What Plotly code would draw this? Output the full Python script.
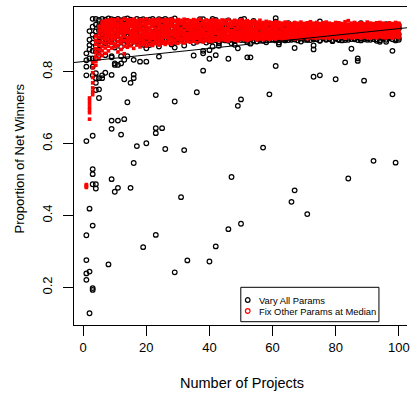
import plotly.graph_objects as go

# ---------------- data ----------------
projects = list(range(1, 101))

# "Vary All Params": main band values per number of projects (1..100)
vary_band = [
    [.832, .851],
    [.862, .889, .913],
    [.947, .925, .903, .881, .858],
    [.947, .931, .912, .896, .872, .856],
    [.944, .927, .915, .899, .884, .861],
    [.947, .936, .921, .904, .889, .884],
    [.945, .930, .917, .899, .883, .880],
    [.948, .938, .913, .902, .886, .893],
    [.946, .933, .920, .907, .890, .882],
    [.944, .929, .915, .897, .884, .867],
    [.947, .937, .922, .906, .888, .891],
    [.943, .931, .918, .900, .885, .869],
    [.946, .934, .911, .903, .887, .894],
    [.948, .928, .916, .898, .881, .886],
    [.945, .936, .921, .905, .891, .877],
    [.942, .930, .914, .899, .884, .893],
    [.947, .935, .919, .908, .889, .885],
    [.944, .927, .912, .896, .882, .890],
    [.946, .933, .920, .902, .886, .875],
    [.943, .938, .917, .904, .890, .894],
    [.945, .929, .913, .897, .883, .889],
    [.947, .934, .922, .906, .888, .893],
    [.942, .931, .915, .900, .885, .887],
    [.946, .936, .918, .903, .891, .870],
    [.944, .928, .911, .898, .884, .892],
    [.947, .933, .920, .907, .889, .886],
    [.943, .930, .916, .901, .886, .894],
    [.945, .937, .919, .904, .892, .876],
    [.948, .932, .914, .899, .883, .890],
    [.941, .929, .921, .906, .890, .887],
    [.928, .922, .917, .902, .887, .893],
    [.924, .919, .913, .897, .885, .873],
    [.941, .926, .920, .905, .891, .888],
    [.927, .921, .915, .900, .886, .894],
    [.925, .918, .912, .903, .889, .880],
    [.929, .923, .912, .898, .884, .892],
    [.946, .926, .921, .906, .892, .887],
    [.946, .924, .916, .901, .887, .894],
    [.927, .920, .913, .904, .890, .881],
    [.925, .918, .914, .899, .885, .891],
    [.947, .927, .920, .907, .893, .886],
    [.944, .923, .917, .902, .888, .895],
    [.928, .921, .913, .897, .884, .879],
    [.926, .919, .912, .905, .891, .889],
    [.940, .924, .915, .900, .887, .893],
    [.943, .927, .921, .906, .892, .886],
    [.925, .920, .916, .903, .889, .895],
    [.929, .922, .918, .899, .885, .875],
    [.927, .919, .914, .904, .890, .893],
    [.945, .926, .920, .907, .893, .888],
    [.947, .924, .917, .902, .888, .894],
    [.926, .921, .913, .898, .886, .882],
    [.928, .919, .912, .905, .891, .890],
    [.941, .925, .915, .900, .887, .895],
    [.924, .920, .913, .906, .893, .884],
    [.927, .922, .916, .903, .889, .892],
    [.925, .919, .918, .901, .886, .896],
    [.929, .923, .914, .904, .892, .887],
    [.926, .920, .911, .907, .888, .894],
    [.928, .921, .917, .902, .890, .889],
    [.949, .939, .915, .899, .887, .895],
    [.926, .920, .919, .905, .893, .876],
    [.924, .918, .913, .900, .889, .892],
    [.928, .922, .918, .906, .891, .887],
    [.935, .919, .916, .903, .888, .895],
    [.925, .921, .914, .901, .892, .889],
    [.927, .917, .912, .904, .890, .893],
    [.924, .920, .917, .899, .887, .896],
    [.928, .922, .919, .905, .893, .884],
    [.931, .918, .915, .902, .889, .894],
    [.925, .921, .913, .906, .891, .888],
    [.927, .919, .916, .900, .888, .896],
    [.924, .920, .918, .903, .892, .890],
    [.929, .922, .913, .907, .890, .895],
    [.940, .925, .919, .901, .887, .886],
    [.926, .918, .915, .904, .893, .897],
    [.928, .921, .917, .899, .889, .891],
    [.924, .919, .912, .905, .891, .895],
    [.927, .920, .914, .902, .888, .885],
    [.925, .922, .918, .906, .892, .894],
    [.928, .918, .916, .900, .890, .888],
    [.926, .921, .919, .903, .887, .896],
    [.924, .919, .915, .907, .893, .888],
    [.927, .922, .917, .901, .889, .894],
    [.925, .918, .913, .904, .891, .897],
    [.928, .920, .914, .902, .890, .892],
    [.926, .921, .916, .905, .888, .896],
    [.935, .923, .918, .900, .892, .887],
    [.924, .919, .914, .903, .890, .895],
    [.927, .917, .919, .906, .893, .889],
    [.931, .920, .915, .901, .889, .894],
    [.925, .922, .917, .904, .891, .897],
    [.928, .918, .912, .907, .890, .886],
    [.932, .921, .913, .902, .887, .883],
    [.926, .919, .918, .905, .892, .895],
    [.932, .920, .916, .900, .889, .883],
    [.924, .918, .919, .903, .893, .896],
    [.927, .921, .914, .906, .890, .897],
    [.925, .919, .917, .901, .891, .887],
    [.930, .922, .920, .904, .894, .889],
]

# "Vary All Params": points away from the main band
vary_out_x = [
    1, 1, 1, 1, 1, 1, 1,
    2, 2, 2, 2, 2,
    3, 3, 3, 3, 3, 3, 3, 3, 3, 3,
    4, 4, 4, 4, 4, 4, 4,
    5, 5, 5, 5,
    6, 6, 7, 7, 8,
    9, 9, 9, 9, 9, 9,
    10, 10, 10, 11, 11, 11, 12, 12, 12, 13, 13, 13,
    14, 14, 15, 15, 16, 16, 16, 16, 17, 18, 19,
    20, 20, 20, 21, 23, 23, 23, 23, 24, 25, 26,
    29, 29, 29, 31, 32, 33, 35, 36, 38, 38, 38,
    40, 40, 40, 41, 42, 42, 43, 46, 46, 47, 47,
    49, 49, 50, 50, 52, 53, 53, 57, 58, 59,
    61, 62, 66, 67, 67, 67, 71, 73, 73, 73, 73,
    75, 80, 83, 84, 85, 87, 87, 89, 92, 98, 98, 99,
]
vary_out_y = [
    .790, .814, .607, .345, .276, .239, .221,
    .837, .419, .244, .128, .874,
    .622, .529, .515, .487, .372, .198, .193, .814, .837, .790,
    .796, .769, .749, .487, .475, .837, .782,
    .751, .727, .846, .782,
    .782, .790, .797, .846, .264,
    .791, .664, .641, .501, .840, .843,
    .466, .823, .819, .664, .477, .819, .625, .823, .843, .779, .668, .833,
    .715, .843, .769, .477, .792, .782, .546, .833, .593, .828, .312,
    .601, .828, .865, .874, .735, .643, .629, .346, .842, .643, .585,
    .717, .242, .867, .451, .582, .275, .845, .743, .803, .858, .851,
    .272, .836, .860, .870, .314, .846, .872, .362, .836, .507, .879,
    .705, .865, .723, .377, .840, .840, .878, .589, .882, .737,
    .816, .881, .438, .470, .866, .890, .404, .786, .873, .862, .896,
    .790, .779, .826, .503, .864, .837, .830, .775, .552, .737, .858, .547,
]

# "Fix Other Params at Median": values per number of projects (1..100)
fix_band = [
    [.478, .481, .483, .486],
    [.668, .686, .694, .702, .711, .720, .727],
    [.736, .745, .755, .769, .784, .797, .811, .826],
    [.818, .829, .841, .853, .864, .876, .887, .899],
    [.836, .849, .861, .873, .884, .896, .907, .916, .926],
    [.845, .858, .870, .882, .893, .903, .913, .922, .931, .939],
    [.851, .866, .878, .889, .899, .908, .917, .925, .933, .942],
    [.858, .871, .883, .894, .903, .912, .920, .928, .936, .944],
    [.866, .879, .888, .897, .905, .914, .921, .929, .937, .945],
    [.869, .877, .891, .899, .908, .913, .924, .931, .938, .944],
    [.855, .873, .884, .896, .903, .911, .919, .927, .935, .946],
    [.862, .880, .889, .894, .906, .915, .922, .930, .939, .943],
    [.850, .871, .886, .898, .904, .912, .918, .926, .934, .947],
    [.868, .878, .887, .895, .909, .916, .923, .932, .940, .945],
    [.872, .883, .892, .900, .907, .913, .925, .928, .936, .944],
    [.865, .881, .890, .897, .905, .911, .920, .929, .937, .946],
    [.874, .884, .893, .901, .908, .917, .924, .931, .938, .942],
    [.869, .879, .888, .896, .904, .914, .921, .927, .935, .945],
    [.876, .885, .891, .899, .906, .912, .919, .930, .939, .944],
    [.871, .882, .894, .902, .909, .915, .923, .928, .936, .947],
    [.875, .886, .890, .898, .907, .916, .922, .933, .940, .943],
    [.873, .880, .892, .900, .905, .913, .925, .929, .937, .945],
    [.878, .887, .895, .903, .910, .917, .921, .932, .938, .944],
    [.874, .884, .889, .897, .906, .914, .924, .930, .936, .946],
    [.879, .888, .893, .901, .908, .912, .920, .927, .939, .943],
    [.876, .883, .896, .904, .909, .918, .923, .931, .937, .945],
    [.880, .889, .894, .899, .907, .915, .922, .929, .935, .944],
    [.877, .886, .891, .902, .910, .913, .925, .932, .938, .946],
    [.881, .887, .897, .905, .908, .916, .921, .928, .940, .942],
    [.879, .890, .895, .900, .906, .914, .924, .930, .936, .945],
    [.883, .888, .893, .903, .911, .917, .920, .933, .939, .943],
    [.880, .891, .898, .904, .909, .915, .926, .929, .937, .946],
    [.884, .889, .894, .901, .907, .918, .923, .931, .935, .944],
    [.882, .892, .897, .905, .912, .914, .921, .928, .938, .942],
    [.885, .890, .896, .902, .908, .916, .925, .932, .936, .945],
    [.881, .893, .899, .906, .910, .913, .922, .930, .939, .943],
    [.886, .891, .895, .903, .909, .917, .924, .929, .934, .946],
    [.883, .888, .898, .904, .911, .915, .920, .931, .937, .941],
    [.887, .892, .896, .901, .907, .918, .926, .928, .935, .944],
    [.884, .890, .899, .905, .912, .914, .923, .932, .938, .942],
    [.885, .893, .897, .902, .908, .916, .921, .930, .936, .945],
    [.888, .891, .894, .906, .910, .919, .925, .929, .934, .943],
    [.886, .892, .898, .903, .909, .913, .922, .931, .939, .941],
    [.889, .894, .900, .905, .911, .917, .924, .928, .935, .944],
    [.887, .890, .896, .904, .907, .915, .920, .933, .937, .942],
    [.885, .893, .899, .902, .912, .918, .923, .930, .934, .945],
    [.890, .895, .897, .906, .908, .914, .926, .929, .938, .940],
    [.888, .891, .900, .903, .910, .916, .921, .932, .936, .943],
    [.886, .894, .898, .905, .909, .919, .924, .928, .933, .941],
    [.891, .896, .901, .904, .911, .913, .922, .931, .937, .944],
    [.889, .892, .897, .907, .910, .917, .925, .930, .935, .940],
    [.887, .895, .899, .902, .908, .915, .920, .927, .934, .942],
    [.890, .893, .900, .906, .912, .918, .923, .929, .936, .939],
    [.892, .896, .898, .903, .909, .914, .921, .932, .933, .941],
    [.888, .894, .901, .905, .911, .916, .924, .928, .935, .938],
    [.891, .897, .899, .904, .907, .919, .922, .930, .934, .943],
    [.889, .893, .902, .906, .913, .915, .920, .927, .932, .937],
    [.892, .895, .900, .903, .910, .917, .925, .929, .935, .940],
    [.890, .896, .898, .907, .908, .914, .921, .931, .933, .938],
    [.893, .894, .901, .905, .912, .918, .923, .928, .930, .936],
    [.891, .897, .899, .904, .909, .916, .920, .926, .934, .939],
    [.894, .895, .902, .906, .911, .913, .924, .929, .932, .937],
    [.890, .898, .900, .903, .908, .917, .922, .927, .931, .935],
    [.893, .896, .901, .907, .910, .915, .919, .930, .933, .938],
    [.892, .897, .903, .905, .912, .914, .921, .926, .929, .936],
    [.895, .899, .900, .904, .909, .918, .923, .928, .932, .934],
    [.891, .896, .902, .906, .911, .916, .920, .925, .931, .937],
    [.894, .898, .901, .903, .908, .913, .922, .927, .930, .935],
    [.893, .895, .899, .907, .910, .917, .924, .926, .933, .938],
    [.896, .897, .903, .905, .912, .915, .919, .929, .931, .934],
    [.892, .899, .900, .904, .909, .914, .921, .925, .930, .936],
    [.895, .896, .902, .906, .911, .918, .923, .928, .932, .939],
    [.894, .898, .901, .903, .908, .916, .920, .926, .929, .935],
    [.893, .897, .904, .907, .910, .913, .922, .927, .933, .937],
    [.896, .899, .900, .905, .912, .917, .919, .925, .931, .934],
    [.894, .898, .903, .906, .909, .915, .921, .928, .930, .936],
    [.895, .896, .901, .904, .911, .914, .924, .926, .932, .938],
    [.893, .899, .902, .907, .908, .918, .920, .927, .929, .935],
    [.897, .898, .900, .905, .910, .916, .922, .925, .931, .933],
    [.894, .896, .903, .906, .913, .915, .919, .928, .930, .937],
    [.895, .899, .901, .904, .909, .917, .923, .926, .933, .936],
    [.896, .897, .902, .908, .911, .914, .920, .927, .929, .934],
    [.893, .898, .904, .905, .910, .918, .921, .925, .931, .939],
    [.897, .899, .900, .906, .912, .913, .922, .928, .932, .942],
    [.894, .896, .903, .907, .908, .916, .919, .926, .930, .935],
    [.895, .898, .901, .904, .911, .915, .924, .927, .933, .937],
    [.896, .897, .902, .906, .909, .917, .920, .925, .929, .934],
    [.894, .899, .903, .905, .910, .914, .921, .928, .931, .936],
    [.897, .898, .900, .907, .912, .918, .923, .926, .930, .933],
    [.895, .896, .904, .906, .908, .913, .919, .927, .932, .938],
    [.893, .899, .901, .905, .911, .916, .922, .925, .929, .935],
    [.896, .897, .902, .908, .909, .915, .920, .928, .931, .934],
    [.894, .898, .903, .904, .910, .917, .921, .926, .933, .936],
    [.897, .899, .900, .906, .912, .914, .924, .927, .930, .937],
    [.895, .896, .904, .907, .908, .918, .919, .925, .932, .935],
    [.894, .898, .901, .905, .911, .913, .922, .928, .929, .933],
    [.896, .897, .903, .906, .909, .916, .920, .926, .931, .936],
    [.893, .899, .902, .904, .910, .915, .923, .927, .930, .934],
    [.897, .898, .900, .907, .912, .917, .921, .925, .933, .937],
    [.895, .896, .904, .905, .909, .914, .920, .928, .931, .935],
]

# fitted line through "Vary All Params"
fit_intercept = 0.8284
fit_slope = 0.000913

x_ticks = [0, 20, 40, 60, 80, 100]
y_ticks = [0.2, 0.4, 0.6, 0.8]
x_title = "Number of Projects"
y_title = "Proportion of Net Winners"
legend_labels = ["Vary All Params", "Fix Other Params at Median"]
legend_colors = ["black", "red"]

# ---------------- build point lists ----------------
vary_x = [x for x, ys in zip(projects, vary_band) for _ in ys] + vary_out_x
vary_y = [y for ys in vary_band for y in ys] + vary_out_y
fix_x = [x for x, ys in zip(projects, fix_band) for _ in ys]
fix_y = [y for ys in fix_band for y in ys]

# ---------------- layout geometry ----------------
W, H = 410, 394
ML, MR, MT, MB = 74, 0, 7, 69
X_RANGE = [-2.921, 102.61]
Y_RANGE = [0.0954, 0.980]
FONT = "Liberation Sans, Arial, Helvetica, sans-serif"

def px_x(p):
    return (p - ML) / (W - ML - MR)

def px_y(p):
    return (H - MB - p) / (H - MB - MT)

fig = go.Figure()

fig.add_trace(go.Scatter(
    x=vary_x, y=vary_y, mode="markers", name=legend_labels[0],
    marker=dict(symbol="circle-open", size=4.6, color="black",
                line=dict(width=1.25, color="black")),
    showlegend=False, hoverinfo="skip"))

fig.add_trace(go.Scatter(
    x=fix_x, y=fix_y, mode="markers", name=legend_labels[1],
    marker=dict(symbol="square", size=3.6, color="#ff0000", line=dict(width=0)),
    showlegend=False, hoverinfo="skip"))

line_x = X_RANGE
line_y = [fit_intercept + fit_slope * v for v in line_x]
fig.add_trace(go.Scatter(
    x=line_x, y=line_y, mode="lines", line=dict(color="black", width=1.1),
    showlegend=False, hoverinfo="skip"))

# legend box (drawn by hand, R style)
shapes = [dict(type="rect", xref="paper", yref="paper",
               x0=px_x(242.3), x1=px_x(381.7), y0=px_y(321.7), y1=px_y(287.3),
               line=dict(color="black", width=1), fillcolor="white", layer="above")]
annotations = []
for i, (lab, col) in enumerate(zip(legend_labels, legend_colors)):
    cy = 300 + 11 * i
    shapes.append(dict(type="circle", xref="paper", yref="paper",
                       xsizemode="pixel", ysizemode="pixel",
                       xanchor=px_x(249.3), yanchor=px_y(cy),
                       x0=-2.3, x1=2.3, y0=-2.3, y1=2.3,
                       line=dict(color=col, width=1.25), layer="above"))
    annotations.append(dict(text=lab, xref="paper", yref="paper",
                            x=px_x(258.5), y=px_y(cy), xanchor="left", yanchor="middle",
                            showarrow=False, font=dict(family=FONT, size=9.4, color="black")))

annotations.append(dict(text=x_title, xref="paper", yref="paper",
                        x=px_x(244), y=px_y(383), xanchor="center", yanchor="middle",
                        showarrow=False, font=dict(family=FONT, size=14.5, color="black")))
annotations.append(dict(text=y_title, xref="paper", yref="paper",
                        x=px_x(19), y=px_y(158), xanchor="center", yanchor="middle",
                        textangle=-90, showarrow=False,
                        font=dict(family=FONT, size=13, color="black")))

fig.update_layout(
    width=W, height=H,
    margin=dict(l=ML, r=MR, t=MT, b=MB, pad=0),
    paper_bgcolor="white", plot_bgcolor="white",
    font=dict(family=FONT, size=13, color="black"),
    shapes=shapes, annotations=annotations,
    showlegend=False,
)
fig.update_xaxes(
    range=X_RANGE, tickvals=x_ticks, ticktext=[str(v) for v in x_ticks],
    ticks="outside", ticklen=10, tickwidth=1, tickcolor="black",
    showline=True, linecolor="black", linewidth=1, mirror=True,
    showgrid=False, zeroline=False, ticklabeloverflow="allow",
    tickfont=dict(family=FONT, size=13, color="black"))
fig.update_yaxes(
    range=Y_RANGE, tickvals=y_ticks, ticktext=[f"{v:.1f}" for v in y_ticks],
    ticks="outside", ticklen=10, tickwidth=1, tickcolor="black",
    showline=True, linecolor="black", linewidth=1, mirror=False,
    showgrid=False, zeroline=False, tickangle=-90, ticklabelstandoff=6,
    tickfont=dict(family=FONT, size=13, color="black"))

fig.write_html("out.html", config={"displayModeBar": False},
               post_script="document.body.style.margin='0px';")
